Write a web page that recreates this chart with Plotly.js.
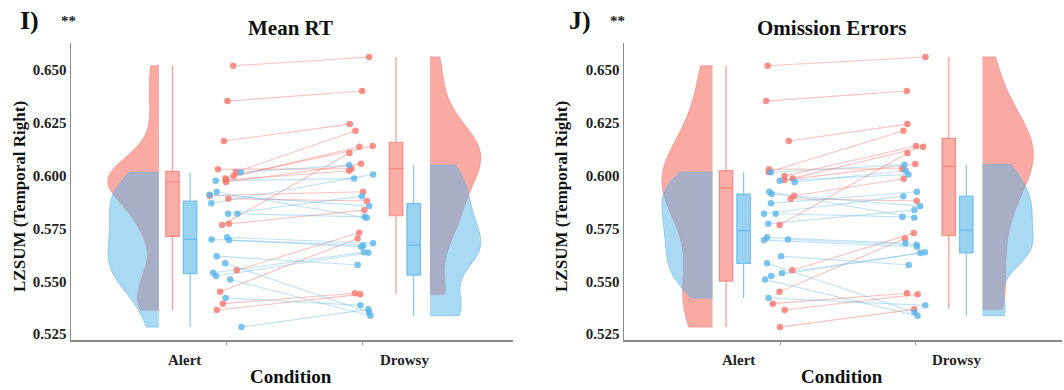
<!DOCTYPE html>
<html><head><meta charset="utf-8">
<script src="https://cdn.plot.ly/plotly-3.0.1.min.js"></script>
<style>html,body{margin:0;padding:0;background:#fff}#chart{width:1064px;height:390px}</style>
</head><body><div id="chart"></div>
<script>
// ---------- data ----------
const conditions = ['Alert', 'Drowsy'];
const panelTitles = ['Mean RT', 'Omission Errors'];
const panelLabels = ['I)', 'J)'];
const significance = ['**', '**'];
const yAxisTitle = 'LZSUM (Temporal Right)';
const xAxisTitle = 'Condition';
const yTickVals = [0.525, 0.550, 0.575, 0.600, 0.625, 0.650];
const yTickText = ['0.525', '0.550', '0.575', '0.600', '0.625', '0.650'];

// Panel I (Mean RT) – red group / blue group, paired Alert -> Drowsy
const redAlertI   = [0.6520, 0.6353, 0.6164, 0.6030, 0.6017, 0.5998, 0.5987, 0.5979, 0.5970, 0.5905, 0.5891, 0.5772, 0.5766, 0.5552, 0.5450, 0.5394, 0.5364];
const redDrowsyI  = [0.6562, 0.6401, 0.6244, 0.6033, 0.6213, 0.6140, 0.6137, 0.6023, 0.6056, 0.5924, 0.5880, 0.5837, 0.6107, 0.5730, 0.5703, 0.5443, 0.5438];
const blueAlertI  = [0.6016, 0.5976, 0.5924, 0.5910, 0.5869, 0.5820, 0.5820, 0.5708, 0.5698, 0.5695, 0.5619, 0.5585, 0.5540, 0.5525, 0.5508, 0.5421, 0.5283];
const blueDrowsyI = [0.6050, 0.5986, 0.5801, 0.5856, 0.6006, 0.5903, 0.5805, 0.5680, 0.5671, 0.5663, 0.5577, 0.5353, 0.5638, 0.5635, 0.5337, 0.5386, 0.5367];

// Panel J (Omission Errors)
const redAlertJ   = [0.6520, 0.6353, 0.6164, 0.6030, 0.6017, 0.5998, 0.5987, 0.5979, 0.5905, 0.5891, 0.5766, 0.5552, 0.5450, 0.5394, 0.5364, 0.5283];
const redDrowsyJ  = [0.6562, 0.6401, 0.6244, 0.6033, 0.6213, 0.6140, 0.6137, 0.6055, 0.5985, 0.5880, 0.6107, 0.5728, 0.5703, 0.5443, 0.5438, 0.5367];
const blueAlertJ  = [0.6016, 0.5976, 0.5970, 0.5924, 0.5913, 0.5869, 0.5820, 0.5820, 0.5772, 0.5708, 0.5698, 0.5695, 0.5619, 0.5585, 0.5539, 0.5525, 0.5508, 0.5421];
const blueDrowsyJ = [0.6052, 0.6006, 0.6023, 0.5801, 0.5856, 0.5924, 0.5903, 0.5805, 0.5837, 0.5680, 0.5673, 0.5663, 0.5577, 0.5353, 0.5637, 0.5634, 0.5337, 0.5386];

// ---------- style ----------
const RED = '248,118,109', BLUE = '86,180,233';
const rgba = (c, a) => `rgba(${c},${a})`;
const FONT = 'Liberation Serif, DejaVu Serif, serif';
const VW = 0.75;

function q7(s, p) { const h = (s.length - 1) * p, lo = Math.floor(h), hi = Math.ceil(h); return s[lo] + (h - lo) * (s[hi] - s[lo]); }
function bwNrd0(v) {
  const s = [...v].sort((a, b) => a - b), n = s.length;
  const m = s.reduce((a, b) => a + b, 0) / n;
  const sd = Math.sqrt(s.reduce((a, b) => a + (b - m) * (b - m), 0) / (n - 1));
  let lo = Math.min(sd, (q7(s, 0.75) - q7(s, 0.25)) / 1.34);
  if (!(lo > 0)) lo = sd;
  return 0.9 * lo * Math.pow(n, -0.2);
}
function jitter(i, seed) { const h = Math.sin((i + 1) * 12.9898 + seed * 78.233) * 43758.5453; return (h - Math.floor(h) - 0.5) * 0.24 - 0.01; }

function panelTraces(ax, redA, redD, blueA, blueD, seed) {
  const xa = 'x' + ax, ya = 'y' + ax;
  const groups = [
    { a: redA, d: redD, c: RED, boxA: 1 - 0.40, boxD: 2 + 0.25, vf: 0.63, la: 0.45, da: 0.8, s: seed },
    { a: blueA, d: blueD, c: BLUE, boxA: 1 - 0.27, boxD: 2 + 0.38, vf: 0.5, la: 0.38, da: 0.78, s: seed + 7 }
  ];
  const out = [];
  groups.forEach(g => {
    [[g.a, 1 - 0.5, 'negative'], [g.d, 2 + 0.5, 'positive']].forEach(([vals, pos, side]) => {
      out.push({ type: 'violin', xaxis: xa, yaxis: ya, x0: pos, y: vals, side: side, width: VW,
        spanmode: 'hard', bandwidth: bwNrd0(vals), points: false, scalemode: 'width',
        box: { visible: false }, meanline: { visible: false },
        fillcolor: rgba(g.c, g.vf), line: { color: rgba(g.c, 0.55), width: 1 },
        hoverinfo: 'skip', showlegend: false });
    });
  });
  groups.forEach(g => {
    [[g.a, g.boxA], [g.d, g.boxD]].forEach(([vals, pos]) => {
      out.push({ type: 'box', xaxis: xa, yaxis: ya, x0: pos, y: vals, width: 0.1, boxpoints: false,
        whiskerwidth: 0, fillcolor: rgba(g.c, 0.6), line: { color: rgba(g.c, 0.75), width: 1.2 },
        hoverinfo: 'skip', showlegend: false });
    });
  });
  groups.forEach(g => {
    const lx = [], ly = [];
    g.a.forEach((v, i) => { lx.push(1 + jitter(i, g.s), 2 + jitter(i, g.s + 3) * 0.75, null); ly.push(v, g.d[i], null); });
    out.push({ type: 'scatter', mode: 'lines', xaxis: xa, yaxis: ya, x: lx, y: ly,
      line: { color: rgba(g.c, g.la), width: 1.1 }, hoverinfo: 'skip', showlegend: false, connectgaps: false });
  });
  groups.forEach(g => {
    const px = [], py = [];
    g.a.forEach((v, i) => { px.push(1 + jitter(i, g.s)); py.push(v); });
    g.d.forEach((v, i) => { px.push(2 + jitter(i, g.s + 3) * 0.75); py.push(v); });
    out.push({ type: 'scatter', mode: 'markers', xaxis: xa, yaxis: ya, x: px, y: py,
      marker: { color: rgba(g.c, g.da), size: 6.5 }, hoverinfo: 'skip', showlegend: false });
  });
  return out;
}

const traces = [].concat(
  panelTraces('', redAlertI, redDrowsyI, blueAlertI, blueDrowsyI, 1),
  panelTraces('2', redAlertJ, redDrowsyJ, blueAlertJ, blueDrowsyJ, 5)
);

const W = 1064, H = 390;
const px = v => v / W, py = v => 1 - v / H;
const yDom = [py(340), py(43)];
const yRange = [0.5222, 0.6628];

function xAxis(dom, rng, anchor) {
  return { domain: dom, range: rng, anchor: anchor, showline: true, linecolor: '#8a8a8a', linewidth: 2,
    tickvals: [1, 2], ticktext: ['', ''], ticks: 'outside', ticklen: 3, tickcolor: '#9a9a9a', tickwidth: 1,
    showgrid: false, zeroline: false, fixedrange: true };
}
function yAxis(anchor) {
  return { domain: yDom, range: yRange, anchor: anchor, showline: true, linecolor: '#8a8a8a', linewidth: 1.5,
    tickvals: yTickVals, ticktext: yTickText, ticks: '', showgrid: false, zeroline: false, fixedrange: true,
    tickfont: { family: FONT, size: 15, color: '#222', weight: 'bold' } };
}

const ann = [];
const panels = [
  { xref: 'x', titleX: 290, labX: 29, sigX: 68, yTitX: 19, condX: 291 },
  { xref: 'x2', titleX: 832, labX: 580, sigX: 617, yTitX: 561, condX: 842 }
];
panels.forEach((p, k) => {
  ann.push({ xref: 'paper', yref: 'paper', x: px(p.titleX), y: py(28), text: panelTitles[k], showarrow: false,
    xanchor: 'center', yanchor: 'middle', font: { family: FONT, size: 21, color: '#111', weight: 'bold' } });
  ann.push({ xref: 'paper', yref: 'paper', x: px(p.labX), y: py(20), text: panelLabels[k], showarrow: false,
    xanchor: 'center', yanchor: 'middle', font: { family: FONT, size: 26, color: '#111', weight: 'bold' } });
  ann.push({ xref: 'paper', yref: 'paper', x: px(p.sigX), y: py(21), text: significance[k], showarrow: false,
    xanchor: 'center', yanchor: 'middle', font: { family: FONT, size: 15, color: '#222', weight: 'bold' } });
  ann.push({ xref: 'paper', yref: 'paper', x: px(p.yTitX), y: py(197), text: yAxisTitle, showarrow: false, textangle: -90,
    xanchor: 'center', yanchor: 'middle', font: { family: FONT, size: 17, color: '#111', weight: 'bold' } });
  ann.push({ xref: 'paper', yref: 'paper', x: px(p.condX), y: py(376), text: xAxisTitle, showarrow: false,
    xanchor: 'center', yanchor: 'middle', font: { family: FONT, size: 19, color: '#111', weight: 'bold' } });
  [0.69, 2.31].forEach((xv, j) => {
    ann.push({ xref: p.xref, yref: 'paper', x: xv, y: py(360), text: conditions[j], showarrow: false,
      xanchor: 'center', yanchor: 'middle', font: { family: FONT, size: 15, color: '#222', weight: 'bold' } });
  });
});

const layout = {
  width: W, height: H, margin: { l: 0, r: 0, t: 0, b: 0 },
  paper_bgcolor: '#fff', plot_bgcolor: '#fff', showlegend: false,
  violinmode: 'overlay', boxmode: 'overlay',
  xaxis: xAxis([px(71), px(513)], [-0.149, 3.113], 'y'),
  yaxis: yAxis('x'),
  xaxis2: xAxis([px(624), px(1062)], [-0.156, 3.089], 'y2'),
  yaxis2: yAxis('x2'),
  annotations: ann
};

Plotly.newPlot('chart', traces, layout, { staticPlot: true, displayModeBar: false });
</script></body></html>
